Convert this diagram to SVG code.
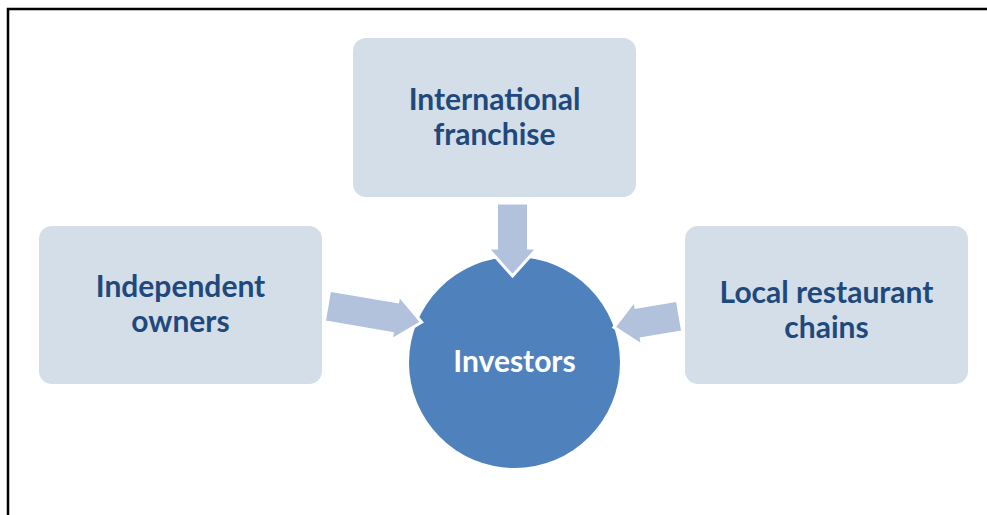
<svg xmlns="http://www.w3.org/2000/svg" width="987" height="515" viewBox="0 0 987 515">
<style>
.box{fill:#D4DEE8;}
.lbl{font-family:Lato,"Open Sans","Liberation Sans",sans-serif;font-weight:bold;font-size:30px;fill:#1F497D;text-anchor:middle;}
.arrow{fill:#B2C2DD;stroke:#FFFFFF;stroke-width:3;stroke-linejoin:miter;}
.main{fill:#4F81BD;}
.mlbl{font-family:Lato,"Open Sans","Liberation Sans",sans-serif;font-weight:bold;font-size:30px;fill:#FFFFFF;text-anchor:middle;}
</style>
<rect width="987" height="515" fill="#FFFFFF"/>
<path d="M8,515 V9 H987" fill="none" stroke="#000000" stroke-width="2.5"/>
<g id="investors">
<circle class="main" cx="514.5" cy="362.5" r="105.5"/>
<text class="mlbl" x="514.5" y="372">Investors</text>
</g>
<g id="international">
<rect class="box" x="353" y="38" width="283" height="159" rx="13"/>
<text class="lbl" x="494.5" y="110">International</text>
<text class="lbl" x="494.5" y="145">franchise</text>
</g>
<g id="independent">
<rect class="box" x="39" y="226" width="283" height="158" rx="13"/>
<text class="lbl" x="180.5" y="297">Independent</text>
<text class="lbl" x="180.5" y="332">owners</text>
</g>
<g id="local">
<rect class="box" x="685" y="226" width="283" height="158" rx="13"/>
<text class="lbl" x="826.5" y="303">Local restaurant</text>
<text class="lbl" x="826.5" y="338">chains</text>
</g>
<g id="connectors">
<path class="arrow" d="M496.5,203 H528.5 V248 H537.5 L512.5,276 L487.5,248 H496.5 Z"/>
<path class="arrow" transform="translate(327,306) rotate(9.7)" d="M0,-16 H69 V-23 L96,0 L69,23 V16 H0 Z"/>
<path class="arrow" transform="translate(680,316) rotate(170.3)" d="M0,-16 H42 V-23 L67,0 L42,23 V16 H0 Z"/>
</g>
</svg>
